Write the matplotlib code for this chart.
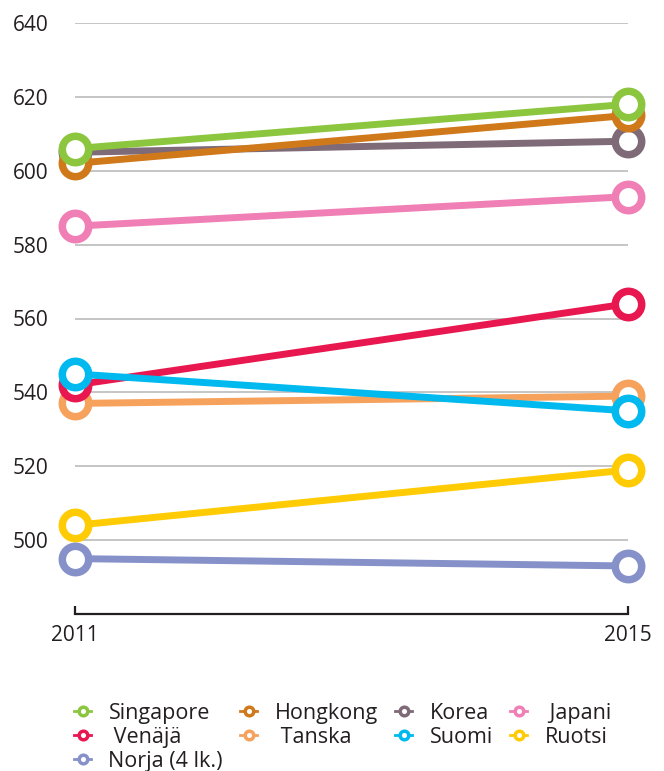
import matplotlib
matplotlib.use('Agg')
from matplotlib import pyplot as plt
from matplotlib.lines import Line2D

plt.rcParams['font.family'] = ['Open Sans', 'DejaVu Sans']

# ---------------------------------------- DATA ----------------------------------------
years = [2011, 2015]
countries = ['Singapore', 'Hongkong', 'Korea', 'Japani', 'Venäjä',
             'Tanska', 'Suomi', 'Ruotsi', 'Norja (4 lk.)']
score_2011 = [606, 602, 605, 585, 542, 537, 545, 504, 495]
score_2015 = [618, 615, 608, 593, 564, 539, 535, 519, 493]
colors = ['#8cc63f', '#d0791b', '#7e6b77', '#ef7fb4', '#e8174f',
          '#f6a25d', '#00b9ef', '#ffcb05', '#8691c9']
layers = [6, 5, 4, 3, 4, 3, 5, 3, 3]  # which line sits on top
y_ticks = [500, 520, 540, 560, 580, 600, 620, 640]

TEXT = '#231f20'

# ---------------------------------------- PLOT ----------------------------------------
fig = plt.figure(figsize=(6.64, 7.71), dpi=100)
W, H = 664, 771
ax = fig.add_axes([75 / W, (H - 614) / H, (628 - 75) / W, (614 - 23) / H])

for name, a, b, c, z in zip(countries, score_2011, score_2015, colors, layers):
    ax.plot(years, [a, b], color=c, lw=5, marker='o', ms=19, mew=5.4,
            mfc='white', mec=c, zorder=z, clip_on=False, solid_capstyle='butt')

# gridlines drawn by hand so they only span the two years
for t in y_ticks:
    ax.plot(years, [t, t], color='#b5b5b5', lw=1.1, zorder=1)

ax.set_xlim(years[0], years[1])
ax.set_ylim(480, 640)
ax.set_yticks(y_ticks)
ax.set_yticklabels([str(t) for t in y_ticks], fontsize=15, color=TEXT)
ax.tick_params(axis='y', length=0, pad=19)
ax.set_xticks(years)
ax.set_xticklabels([str(y) for y in years], fontsize=15, color=TEXT)
ax.tick_params(axis='x', direction='in', length=6, width=1.6, color=TEXT, pad=8)

for s in ['top', 'right', 'left']:
    ax.spines[s].set_visible(False)
ax.spines['bottom'].set_color(TEXT)
ax.spines['bottom'].set_linewidth(1.6)

# legend, reordered so rows read left to right
handles = {}
for name, c in zip(countries, colors):
    handles[name] = Line2D([], [], color=c, lw=2, marker='o', ms=6.2, mew=2.5,
                           mfc='white', mec=c)
order = ['Singapore', 'Venäjä', 'Norja (4 lk.)', 'Hongkong', 'Tanska',
         'Korea', 'Suomi', 'Japani', 'Ruotsi']
labels = {'Venäjä': ' Venäjä', 'Tanska': ' Tanska', 'Japani': ' Japani'}
fig.legend([handles[n] for n in order], [labels.get(n, n) for n in order],
           ncol=4, loc='upper left', bbox_to_anchor=(74 / W, (H - 703) / H),
           frameon=False, fontsize=15.5, handlelength=0.8, handletextpad=0.8,
           columnspacing=0.8, labelspacing=0.14, borderpad=0, borderaxespad=0,
           labelcolor=TEXT)

fig.savefig('out.png', dpi=100)
